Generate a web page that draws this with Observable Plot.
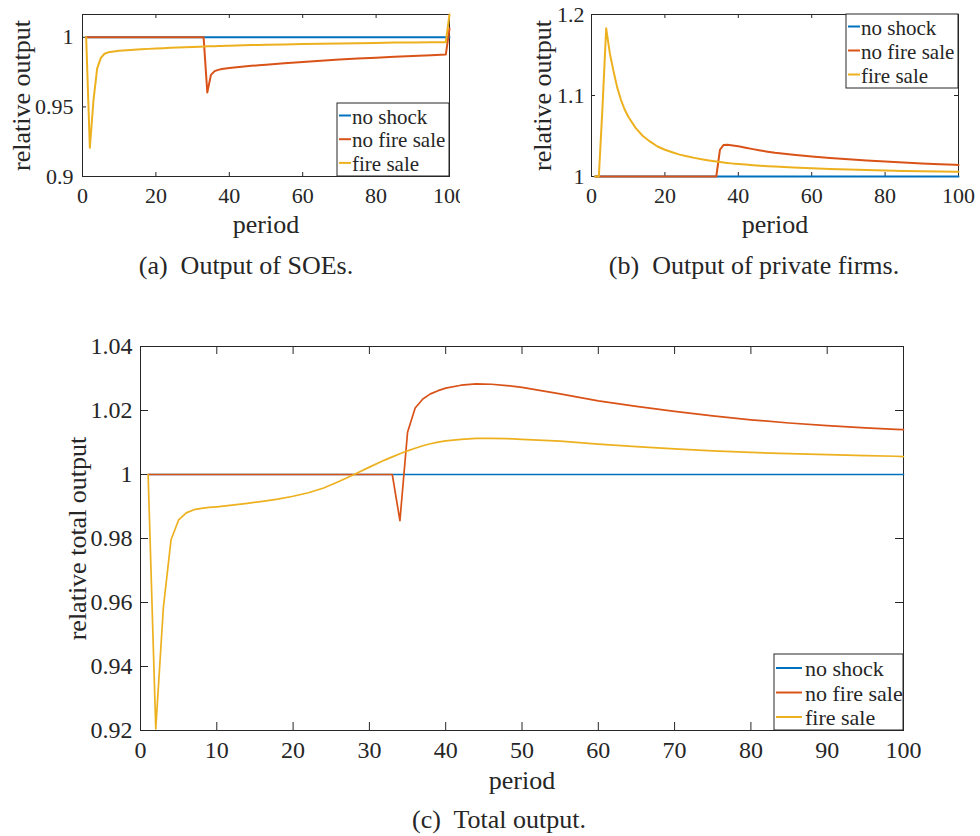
<!DOCTYPE html>
<html>
<head>
<meta charset="utf-8">
<script src="https://cdn.jsdelivr.net/npm/d3@7"></script>
<script src="https://cdn.jsdelivr.net/npm/@observablehq/plot@0.6"></script>
<style>
  html, body { margin: 0; padding: 0; background: #fff; }
  #page { position: relative; width: 980px; height: 836px; overflow: hidden; background: #fff;
          font-family: "Liberation Serif", serif; color: #262626; }
  .panel { position: absolute; overflow: hidden; }
  .caption { position: absolute; font-size: 26px; line-height: 26px; white-space: pre; transform: translateX(-50%); }
</style>
</head>
<body>
<div id="page">
  <div class="panel" id="soe" style="left:0;top:0;width:460px;height:250px"></div>
  <div class="panel" id="priv" style="left:500px;top:0;width:480px;height:250px"></div>
  <div class="panel" id="total" style="left:0;top:330px;width:980px;height:470px"></div>
  <div class="caption" style="left:246px;top:253px">(a)  Output of SOEs.</div>
  <div class="caption" style="left:754px;top:253px">(b)  Output of private firms.</div>
  <div class="caption" style="left:499px;top:807px">(c)  Total output.</div>
</div>
<script>
// Simulation periods at which the paths are sampled
const period = [1,2,3,4,5,6,7,8,9,10,12,14,16,18,20,22,24,26,28,30,32,33,34,35,36,37,38,39,40,
  42,44,46,48,50,55,60,65,70,75,80,85,90,95,99,100];

const seriesNames = ["no shock", "no fire sale", "fire sale"];
const seriesColors = ["#0072BD", "#D95319", "#EDB120"];

// (a) output of SOEs, relative to steady state
const soeNoShock = [1,1,1,1,1,1,1,1,1,1,1,1,1,1,1,1,1,1,1,1,1,1,1,1,1,1,1,1,1,1,1,1,1,1,1,1,1,1,1,1,1,1,1,1,1];
const soeNoFireSale = [1,1,1,1,1,1,1,1,1,1, 1,1,1,1,1,1,1,1,1,1, 1,1,
  0.9604,0.9730,0.9757,0.9766,0.9772,0.9776,0.9779,
  0.9785,0.9790,0.9795,0.9799,0.9803,
  0.9813,0.9823,0.9832,0.9840,0.9847,0.9854,0.9860,0.9866,0.9872,
  0.9877,1.0063];
const soeFireSale = [1,0.9206,0.9550,0.9777,0.9852,0.9882,0.9892,0.9897,0.9900,0.9903,
  0.9907,0.9911,0.9914,0.9917,0.9920,0.9922,0.9925,0.9927,0.9929,0.9931,
  0.9933,0.9934,0.9935,0.9936,0.9936,0.9937,0.9938,0.9939,0.9940,
  0.9941,0.9943,0.9944,0.9945,0.9946,
  0.9949,0.9952,0.9954,0.9956,0.9958,0.9960,0.9962,0.9963,0.9964,
  0.9965,1.0164];

// (b) output of private firms
const privNoShock = [1,1,1,1,1,1,1,1,1,1,1,1,1,1,1,1,1,1,1,1,1,1,1,1,1,1,1,1,1,1,1,1,1,1,1,1,1,1,1,1,1,1,1,1,1];
const privNoFireSale = [1,1,1,1,1,1,1,1,1,1, 1,1,1,1,1,1,1,1,1,1, 1,1,1,
  1.0330,1.0390,1.0392,1.0386,1.0380,1.0373,
  1.0355,1.0338,1.0321,1.0306,1.0293,
  1.0268,1.0247,1.0228,1.0212,1.0197,1.0184,1.0172,1.0161,1.0151,
  1.0144,1.0142];
const privFireSale = [1,1,1.086,1.183,1.152,1.130,1.110,1.095,1.083,1.074,
  1.060,1.050,1.043,1.037,1.033,1.030,1.027,1.025,1.023,1.0212,
  1.0198,1.0191,1.0185,1.0178,1.0172,1.0167,1.0162,1.0158,1.0154,
  1.0147,1.0140,1.0134,1.0128,1.0123,
  1.0111,1.0101,1.0093,1.0086,1.0080,1.0074,1.0069,1.0065,1.0061,
  1.0058,1.0058];

// (c) total output
const totalNoShock = [1,1,1,1,1,1,1,1,1,1,1,1,1,1,1,1,1,1,1,1,1,1,1,1,1,1,1,1,1,1,1,1,1,1,1,1,1,1,1,1,1,1,1,1,1];
const totalNoFireSale = [1,1,1,1,1,1,1,1,1,1, 1,1,1,1,1,1,1,1,1,1, 1,1,
  0.9856,1.0132,1.0208,1.0236,1.0252,1.0262,1.0270,
  1.0279,1.0283,1.0282,1.0278,1.0272,
  1.0252,1.0230,1.0213,1.0197,1.0183,1.0171,1.0161,1.0153,1.0146,
  1.0141,1.0140];
const totalFireSale = [1,0.9205,0.9585,0.9796,0.9858,0.9880,0.9890,0.9894,0.9897,0.9899,
  0.9904,0.9910,0.9916,0.9923,0.9932,0.9943,0.9958,0.9978,1.0000,1.0023,
  1.0045,1.0055,1.0065,1.0074,1.0082,1.0090,1.0096,1.0101,1.0105,
  1.0110,1.0113,1.0113,1.0112,1.0110,
  1.0104,1.0095,1.0087,1.0080,1.0074,1.0069,1.0065,1.0062,1.0059,
  1.0057,1.0056];

// Axis ticks and their labels
const xTicksTop = [0, 20, 40, 60, 80, 100];
const xTickLabelsTop = ["0", "20", "40", "60", "80", "100"];
const soeYTicks = [0.9, 0.95, 1];
const soeYTickLabels = ["0.9", "0.95", "1"];
const privYTicks = [1, 1.1, 1.2];
const privYTickLabels = ["1", "1.1", "1.2"];
const totalXTicks = [0, 10, 20, 30, 40, 50, 60, 70, 80, 90, 100];
const totalXTickLabels = ["0", "10", "20", "30", "40", "50", "60", "70", "80", "90", "100"];
const totalYTicks = [0.92, 0.94, 0.96, 0.98, 1, 1.02, 1.04];
const totalYTickLabels = ["0.92", "0.94", "0.96", "0.98", "1", "1.02", "1.04"];

const ink = "#262626";
const font = '"Liberation Serif", serif';

function drawPanel(cfg) {
  const m = cfg.margin;
  const innerW = cfg.width - m.left - m.right;
  const innerH = cfg.height - m.top - m.bottom;
  const xFmt = new Map(cfg.xTicks.map((t, i) => [t, cfg.xTickLabels[i]]));
  const yFmt = new Map(cfg.yTicks.map((t, i) => [t, cfg.yTickLabels[i]]));
  const svg = Plot.plot({
    width: cfg.width,
    height: cfg.height,
    marginTop: m.top, marginRight: m.right, marginBottom: m.bottom, marginLeft: m.left,
    x: {domain: [0, 100]},
    y: {domain: cfg.yDomain},
    style: {fontFamily: font, fontSize: cfg.tickFont + "px", color: ink, background: "transparent"},
    marks: [
      // inward tick marks on all four sides of the box
      Plot.tickX(cfg.xTicks, {x: d => d, insetTop: innerH - cfg.tickLen, stroke: ink}),
      Plot.tickX(cfg.xTicks, {x: d => d, insetBottom: innerH - cfg.tickLen, stroke: ink}),
      Plot.tickY(cfg.yTicks, {y: d => d, insetRight: innerW - cfg.tickLen, stroke: ink}),
      Plot.tickY(cfg.yTicks, {y: d => d, insetLeft: innerW - cfg.tickLen, stroke: ink}),
      Plot.frame({stroke: ink}),
      Plot.axisX({ticks: cfg.xTicks, tickSize: 0, tickPadding: cfg.xPad, tickFormat: d => xFmt.get(d),
                  fontSize: cfg.tickFont, fill: ink, label: null}),
      Plot.axisY({ticks: cfg.yTicks, tickSize: 0, tickPadding: cfg.yPad, tickFormat: d => yFmt.get(d),
                  fontSize: cfg.tickFont, fill: ink, label: null}),
      Plot.text(["period"], {text: d => d, frameAnchor: "bottom", dy: cfg.xLabelDy,
                             textAnchor: "middle", lineAnchor: "middle", fontSize: cfg.labelFont, fill: ink}),
      Plot.text([cfg.yLabel], {text: d => d, frameAnchor: "left", rotate: -90, dx: cfg.yLabelDx,
                               textAnchor: "middle", lineAnchor: "middle", fontSize: cfg.labelFont, fill: ink}),
      ...cfg.series.map((values, k) =>
        Plot.line(values, {x: period, y: d => d, stroke: seriesColors[k], strokeWidth: cfg.lineWidth}))
    ]
  });

  // legend box inside the axes
  const L = cfg.legend;
  const bx = L.right ? cfg.width - m.right - L.w : m.left;
  const by = L.bottom ? cfg.height - m.bottom - L.h : m.top;
  const g = d3.select(svg).append("g")
    .attr("font-family", font).attr("font-size", L.font).attr("text-anchor", "start");
  g.append("rect").attr("x", bx).attr("y", by).attr("width", L.w).attr("height", L.h)
    .attr("fill", "#fff").attr("stroke", ink);
  seriesNames.forEach((name, i) => {
    const base = by + L.first + i * L.pitch;
    g.append("line").attr("x1", bx + L.s0).attr("x2", bx + L.s1)
      .attr("y1", base - 8).attr("y2", base - 8)
      .attr("stroke", seriesColors[i]).attr("stroke-width", 2);
    g.append("text").attr("x", bx + L.tx).attr("y", base).attr("fill", ink).text(name);
  });
  return svg;
}

document.getElementById("soe").appendChild(drawPanel({
  width: 460, height: 250,
  margin: {top: 14, right: 11, bottom: 74, left: 82},
  yDomain: [0.9, 1.0164],
  xTicks: xTicksTop, xTickLabels: xTickLabelsTop,
  yTicks: soeYTicks, yTickLabels: soeYTickLabels,
  tickLen: 4, tickFont: 22, labelFont: 26, xPad: 11, yPad: 9,
  xLabelDy: 48, yLabel: "relative output", yLabelDx: -61,
  lineWidth: 2,
  series: [soeNoShock, soeNoFireSale, soeFireSale],
  legend: {right: true, bottom: true, w: 112, h: 73, first: 20.5, pitch: 23.7, s0: 2, s1: 14, tx: 15, font: 21}
}));

document.getElementById("priv").appendChild(drawPanel({
  width: 480, height: 250,
  margin: {top: 14, right: 22, bottom: 74, left: 91},
  yDomain: [1, 1.2],
  xTicks: xTicksTop, xTickLabels: xTickLabelsTop,
  yTicks: privYTicks, yTickLabels: privYTickLabels,
  tickLen: 4, tickFont: 22, labelFont: 26, xPad: 11, yPad: 7,
  xLabelDy: 48, yLabel: "relative output", yLabelDx: -49,
  lineWidth: 2,
  series: [privNoShock, privNoFireSale, privFireSale],
  legend: {right: true, bottom: false, w: 112, h: 74, first: 20.5, pitch: 24, s0: 2, s1: 14, tx: 15, font: 21}
}));

document.getElementById("total").appendChild(drawPanel({
  width: 980, height: 470,
  margin: {top: 16, right: 77, bottom: 70, left: 140},
  yDomain: [0.92, 1.04],
  xTicks: totalXTicks, xTickLabels: totalXTickLabels,
  yTicks: totalYTicks, yTickLabels: totalYTickLabels,
  tickLen: 8, tickFont: 24, labelFont: 26, xPad: 10, yPad: 8,
  xLabelDy: 50, yLabel: "relative total output", yLabelDx: -63,
  lineWidth: 1.7,
  series: [totalNoShock, totalNoFireSale, totalFireSale],
  legend: {right: true, bottom: true, w: 129, h: 76, first: 22, pitch: 24.5, s0: 2, s1: 28, tx: 31, font: 22}
}));
</script>
</body>
</html>
